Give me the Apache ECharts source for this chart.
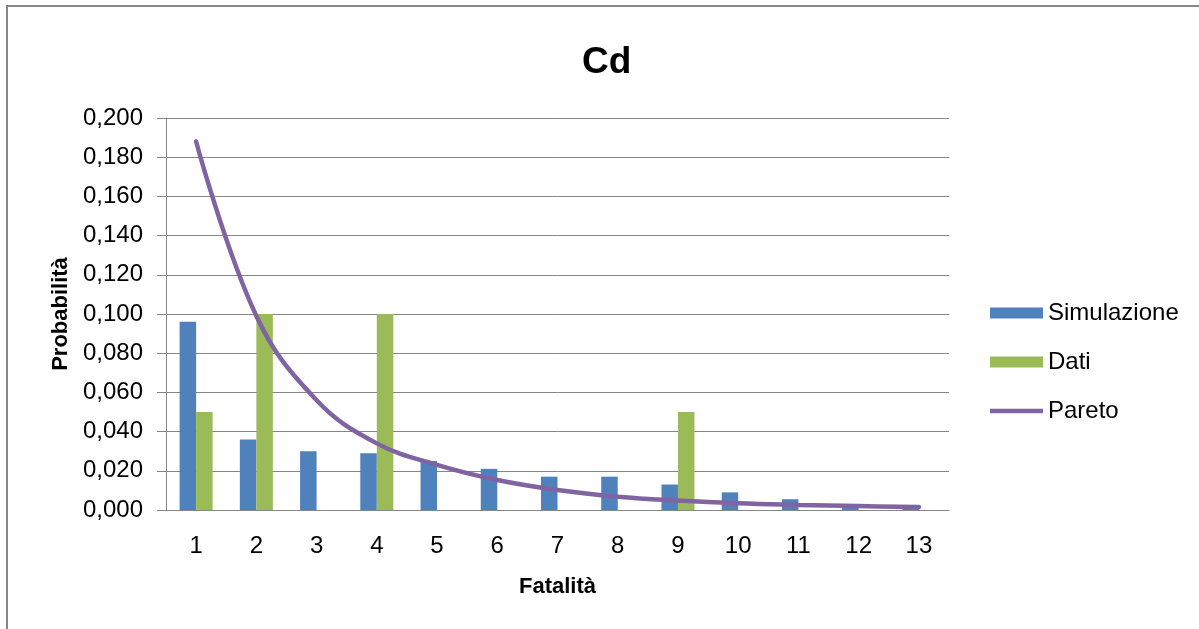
<!DOCTYPE html>
<html>
<head>
<meta charset="utf-8">
<script src="https://cdn.jsdelivr.net/npm/echarts@6/dist/echarts.min.js"></script>
<style>
html,body{margin:0;padding:0;background:#fff;}
#chart{width:1199px;height:629px;}
</style>
</head>
<body>
<div id="chart"></div>
<script>
const categories = ['1','2','3','4','5','6','7','8','9','10','11','12','13'];
const simulazione = [0.096, 0.036, 0.030, 0.029, 0.025, 0.021, 0.017, 0.017, 0.013, 0.009, 0.0055, 0.002, 0.001];
const dati = [0.050, 0.100, 0, 0.100, 0, 0, 0, 0, 0.050, 0, 0, 0, 0];
const pareto = [0.188, 0.099, 0.056, 0.034, 0.023, 0.0153, 0.0102, 0.0068, 0.0048, 0.0034, 0.0026, 0.0020, 0.0015];
const seriesNames = ['Simulazione', 'Dati', 'Pareto'];
const yMin = 0, yMax = 0.2, yStep = 0.02;

const FONT = "'Liberation Sans', Arial, sans-serif";
const chart = echarts.init(document.getElementById('chart'), null, {renderer: 'canvas'});
chart.setOption({
  backgroundColor: '#ffffff',
  animation: false,
  graphic: [{
    type: 'rect', shape: {x: 7, y: 6, width: 1300, height: 700},
    style: {fill: 'none', stroke: '#878787', lineWidth: 2}, silent: true
  }],
  title: {
    text: 'Cd', left: 577, top: 39,
    textStyle: {fontFamily: FONT, fontWeight: 'bold', fontSize: 37, color: '#000'}
  },
  legend: {
    orient: 'vertical', left: 990, top: 301, padding: 0,
    itemWidth: 53, itemHeight: 11, itemGap: 25,
    textStyle: {fontFamily: FONT, fontSize: 24, color: '#000', lineHeight: 24},
    data: [
      {name: seriesNames[0], icon: 'rect'},
      {name: seriesNames[1], icon: 'rect'},
      {name: seriesNames[2], icon: 'path://M0,0 L53,0 L53,4.5 L0,4.5 Z'}
    ]
  },
  grid: {left: 166, right: 250, top: 118, bottom: 119, containLabel: false},
  xAxis: {
    type: 'category', data: categories, boundaryGap: true,
    name: 'Fatalità', nameLocation: 'middle', nameGap: 66,
    nameTextStyle: {fontFamily: FONT, fontWeight: 'bold', fontSize: 22, color: '#000'},
    axisLine: {show: true, lineStyle: {color: '#868686', width: 1}},
    axisTick: {show: false},
    axisLabel: {fontFamily: FONT, fontSize: 24, color: '#000', margin: 24}
  },
  yAxis: {
    type: 'value', min: yMin, max: yMax, interval: yStep,
    name: 'Probabilità', nameLocation: 'middle', nameRotate: 90, nameGap: 93,
    nameTextStyle: {fontFamily: FONT, fontWeight: 'bold', fontSize: 22, color: '#000'},
    axisLine: {show: true, lineStyle: {color: '#868686', width: 1}},
    axisTick: {show: true, inside: false, length: 9, lineStyle: {color: '#868686'}},
    axisLabel: {
      fontFamily: FONT, fontSize: 24, color: '#000', margin: 23,
      formatter: v => v.toFixed(3).replace('.', ',')
    },
    splitLine: {show: true, lineStyle: {color: '#868686', width: 1}}
  },
  series: [
    {name: seriesNames[0], type: 'bar', data: simulazione, barWidth: 16.5, barGap: '0%',
     itemStyle: {color: '#4F81BD'}},
    {name: seriesNames[1], type: 'bar', data: dati, barWidth: 16.5, barGap: '0%',
     itemStyle: {color: '#9BBB59'}},
    {name: seriesNames[2], type: 'line', data: pareto, smooth: 0.4, symbol: 'none',
     lineStyle: {color: '#8064A2', width: 4.5, cap: 'round'}, itemStyle: {color: '#8064A2'}, z: 5}
  ]
});
</script>
</body>
</html>
